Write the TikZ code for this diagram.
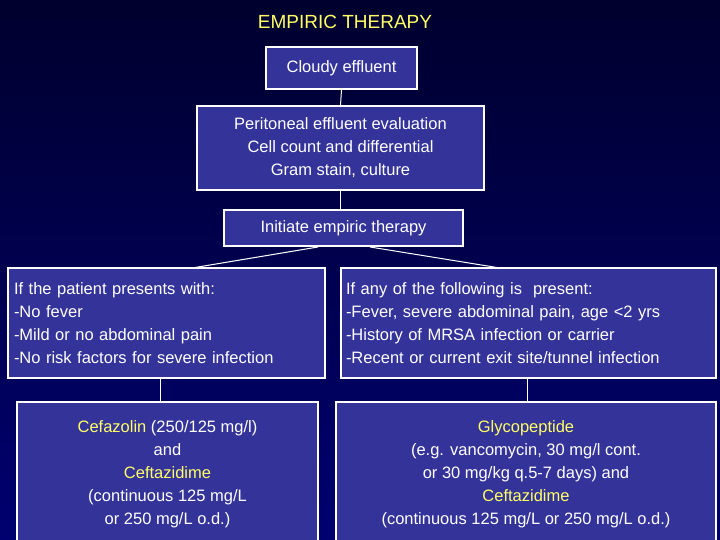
\documentclass[tikz,border=0pt]{standalone}
\usepackage{fontspec}
\setmainfont{Liberation Sans}
\begin{document}
\begin{tikzpicture}[x=1pt,y=-1pt,
  bx/.style={draw=white,line width=2pt,fill=boxblue,text=white,font=\fontsize{16.5}{23}\selectfont,inner sep=0pt},
  ln/.style={draw=white,line width=1pt}]
\definecolor{boxblue}{HTML}{333399}
\definecolor{bgtop}{HTML}{00002E}
\definecolor{bgbot}{HTML}{000070}
\definecolor{yel}{HTML}{FFFF66}
\useasboundingbox (0,0) rectangle (720,540);
\shade[top color=bgtop,bottom color=bgbot] (0,0) rectangle (720,540);
\node[text=yel,font=\fontsize{19}{23}\selectfont] (t) at (345,22) {EMPIRIC THERAPY};
\node[bx,minimum width=151pt,minimum height=42pt] (c) at (341.5,68) {Cloudy effluent};
\node[bx,minimum width=287pt,minimum height=84pt,align=center] (p) at (340.5,148) {Peritoneal effluent evaluation\\Cell count and differential\\Gram stain, culture};
\node[bx,minimum width=239pt,minimum height=36pt] (i) at (343.5,228) {Initiate empiric therapy};
\node[bx,minimum width=317pt,minimum height=110pt,align=left,text width=305pt] (l) at (166.5,323) {If the patient presents with:\\-No fever\\-Mild or no abdominal pain\\-No risk factors for severe infection};
\node[bx,minimum width=375pt,minimum height=110pt,align=left,text width=365pt] (r) at (528.5,323) {If any of the following is~ present:\\-Fever, severe abdominal pain, age <2 yrs\\-History of MRSA infection or carrier\\-Recent or current exit site/tunnel infection};
\node[bx,minimum width=301pt,minimum height=145pt,align=center,anchor=north] (lb) at (167.5,401) {\textcolor{yel}{Cefazolin} (250/125 mg/l)\\and\\\textcolor{yel}{Ceftazidime}\\(continuous 125 mg/L\\or 250 mg/L o.d.)};
\node[bx,minimum width=380pt,minimum height=145pt,align=center,anchor=north] (rb) at (526,401) {\textcolor{yel}{Glycopeptide}\\(e.g. vancomycin, 30 mg/l cont.\\or 30 mg/kg q.5-7 days) and\\\textcolor{yel}{Ceftazidime}\\(continuous 125 mg/L or 250 mg/L o.d.)};
\begin{scope}[on background layer/.style={}]
\end{scope}
\draw[ln] (c.south) -- (p.north);
\draw[ln] (p.south) -- (i.north-|p.south);
\coordinate (la) at (318,247); \coordinate (ra) at (370,247);
\coordinate (lt) at (192,268); \coordinate (rt) at (500,268);
\draw[ln] (la) -- (lt); \draw[ln] (ra) -- (rt);
\draw[ln] (l.south-|160,0) -- (lb.north-|160,0);
\draw[ln] (r.south-|527,0) -- (rb.north-|527,0);
\end{tikzpicture}
\end{document}
